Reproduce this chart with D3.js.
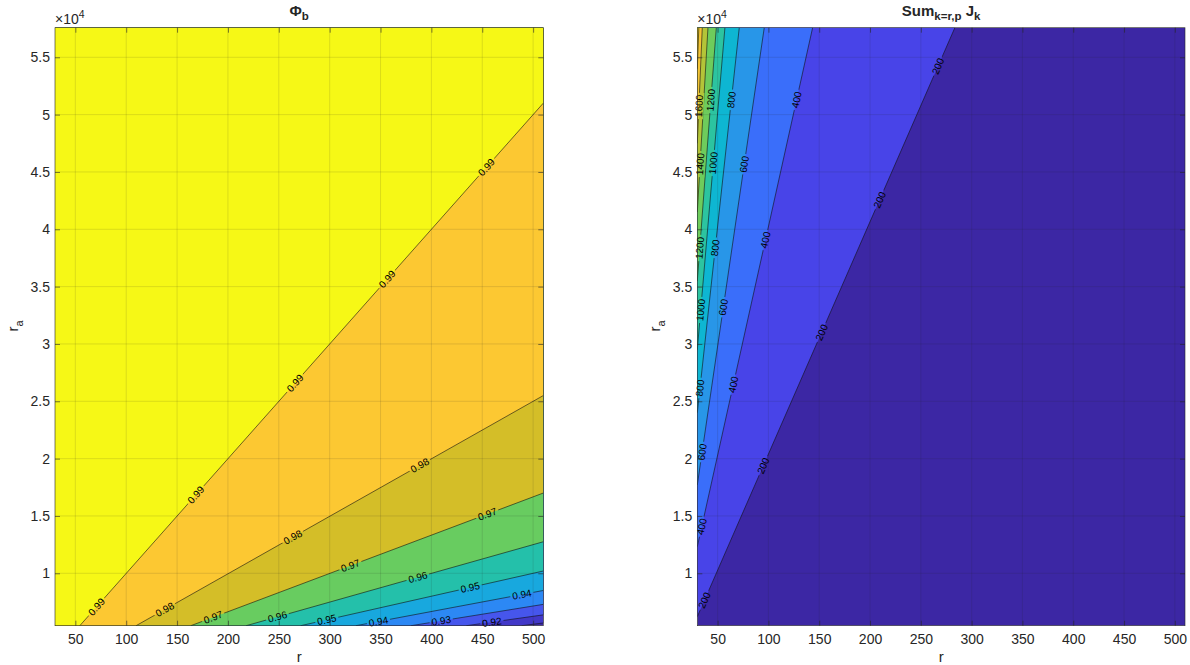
<!DOCTYPE html>
<html>
<head>
<meta charset="utf-8">
<script src="https://cdn.jsdelivr.net/npm/d3@7"></script>
<style>
  body { margin: 0; background: #fff; }
  svg text { font-family: "Liberation Sans", Arial, Helvetica, sans-serif; fill: #262626; }
</style>
</head>
<body>
<svg id="fig" width="1190" height="665"></svg>
<script>
// axis ranges and ticks (same for both panels)
const rDomain = [30, 510];
const raDomain = [5430, 57580];
const xTicks = [50, 100, 150, 200, 250, 300, 350, 400, 450, 500];
const yTicks = [10000, 15000, 20000, 25000, 30000, 35000, 40000, 45000, 50000, 55000];

const phiLevels = [0.91, 0.92, 0.93, 0.94, 0.95, 0.96, 0.97, 0.98, 0.99];
const phiLines = [
  [[488.7, 5430], [510, 5667]],
  [[434.4, 5430], [510, 6375]],
  [[380.0, 5430], [510, 7290]],
  [[325.8, 5430], [510, 8500]],
  [[271.5, 5430], [510, 10200]],
  [[217.9, 5430], [510, 12750]],
  [[163.5, 5430], [510, 17000]],
  [[109.7, 5430], [510, 25500]],
  [[54.4, 5430], [510, 51000]]
];
// label spots [level, r, ra]
const phiLabels = [
  [0.99, 68.7, 7235], [0.99, 168.7, 16828], [0.99, 268, 26422], [0.99, 357.5, 35579], [0.99, 454.9, 45346],
  [0.98, 138.2, 6799], [0.98, 263.1, 13253], [0.98, 389, 19358],
  [0.97, 185.7, 6128], [0.97, 320.8, 10576], [0.97, 454.6, 15233],
  [0.96, 248.7, 6189], [0.96, 386.8, 9616],
  [0.95, 297.2, 5929], [0.95, 438.2, 8744],
  [0.94, 348, 5779], [0.94, 489, 8108],
  [0.93, 409.7, 5840],
  [0.92, 459.5, 5727]
];
const phiFills = ["#3c28a8", "#4238c8", "#4656ec", "#2c88f4", "#18a8de", "#24c0aa", "#68cc60", "#d4be28", "#fcc832", "#f6f816"];

// right panel: Sum J_k
const sumLevels = [200, 400, 600, 800, 1000, 1200, 1400, 1600, 1800];
const sumLines = [
  [[30, 6215], [283.5, 57580]],
  [[30, 12320], [143.5, 57580]],
  [[30, 17700], [95.9, 57580]],
  [[30, 24000], [71.3, 57580]],
  [[30, 29500], [57.2, 57580]],
  [[30, 35500], [48.7, 57580]],
  [[30, 41500], [40.5, 57580]],
  [[30, 47500], [34.9, 57580]],
  [[30, 54000], [31.5, 57580]]
];
const sumLabels = [
  [200, 38.6, 7584], [200, 97.6, 19270], [200, 153.6, 30956], [200, 209.7, 42555], [200, 268.7, 54153],
  [400, 35.9, 14038], [400, 67.1, 26422], [400, 96.6, 39068], [400, 128.1, 51278],
  [600, 34.6, 20579], [600, 54.6, 33224], [600, 75.2, 45695],
  [800, 32.7, 26160], [800, 49.1, 38371], [800, 64.8, 51278],
  [1000, 33.6, 32962], [1000, 45.7, 45782],
  [1200, 32.7, 38371], [1200, 42.5, 51278],
  [1400, 32.7, 45695],
  [1600, 32.7, 50755]
];
const sumFills = ["#3c27a4", "#4844e8", "#3a6efa", "#2896e8", "#0eb6d2", "#2cc4a0", "#6ecc5c", "#b4c438", "#f4c434", "#f8e020"];

const svg = d3.select("#fig");
const plotTop = 27.7, plotBottom = 625.7;

function panel(cfg) {
  const x = d3.scaleLinear().domain(rDomain).range([cfg.left, cfg.right]);
  const y = d3.scaleLinear().domain(raDomain).range([plotBottom, plotTop]);
  const g = svg.append("g");
  const defs = svg.append("defs");

  defs.append("clipPath").attr("id", cfg.id + "-clip")
    .append("rect").attr("x", cfg.left).attr("y", plotTop)
    .attr("width", cfg.right - cfg.left).attr("height", plotBottom - plotTop);

  const px = p => [x(p[0]), y(p[1])];

  // filled bands: paint lowest colour, then the high side of each level on top
  const fillG = g.append("g").attr("clip-path", `url(#${cfg.id}-clip)`);
  fillG.append("rect").attr("x", cfg.left).attr("y", plotTop)
    .attr("width", cfg.right - cfg.left).attr("height", plotBottom - plotTop)
    .attr("fill", cfg.fills[0]);
  const corner = [cfg.left, plotTop]; // high values are to the top-left
  cfg.lines.forEach((seg, i) => {
    const a = px(seg[0]), b = px(seg[1]);
    const len = Math.hypot(b[0] - a[0], b[1] - a[1]);
    const d = [(b[0] - a[0]) / len, (b[1] - a[1]) / len];
    let n = [d[1], -d[0]];
    if (n[0] * (corner[0] - a[0]) + n[1] * (corner[1] - a[1]) < 0) n = [-n[0], -n[1]];
    const big = 3000;
    const p1 = [a[0] - d[0] * big, a[1] - d[1] * big];
    const p2 = [b[0] + d[0] * big, b[1] + d[1] * big];
    const p3 = [p2[0] + n[0] * big, p2[1] + n[1] * big];
    const p4 = [p1[0] + n[0] * big, p1[1] + n[1] * big];
    fillG.append("path").attr("d", d3.line()([p1, p2, p3, p4]) + "Z")
      .attr("fill", cfg.fills[i + 1]);
  });

  // grid
  const grid = g.append("g").attr("stroke", "#262626").attr("stroke-opacity", 0.13).attr("stroke-width", 1);
  grid.selectAll("line.gx").data(xTicks).enter().append("line")
    .attr("x1", d => x(d)).attr("x2", d => x(d)).attr("y1", plotTop).attr("y2", plotBottom);
  grid.selectAll("line.gy").data(yTicks).enter().append("line")
    .attr("y1", d => y(d)).attr("y2", d => y(d)).attr("x1", cfg.left).attr("x2", cfg.right);

  // contour labels, snapped on their line
  const labelG = g.append("g");
  const spots = cfg.labels.map(l => {
    const seg = cfg.lines[cfg.levels.indexOf(l[0])];
    const a = px(seg[0]), b = px(seg[1]), p = px([l[1], l[2]]);
    const vx = b[0] - a[0], vy = b[1] - a[1];
    let t = ((p[0] - a[0]) * vx + (p[1] - a[1]) * vy) / (vx * vx + vy * vy);
    t = Math.max(0, Math.min(1, t));
    let ang = Math.atan2(vy, vx) * 180 / Math.PI;
    if (ang > 90) ang -= 180;
    if (ang < -90) ang += 180;
    return {text: String(l[0]), x: a[0] + t * vx, y: a[1] + t * vy, ang};
  });
  labelG.selectAll("text").data(spots).enter().append("text")
    .attr("transform", d => `translate(${d.x},${d.y}) rotate(${d.ang})`)
    .attr("text-anchor", "middle").attr("dominant-baseline", "central")
    .style("font-size", "10px").style("fill", "#000")
    .text(d => d.text)
    .each(function(d) { d.w = this.getComputedTextLength(); });

  // gaps in the contour lines behind the labels
  const mask = defs.append("mask").attr("id", cfg.id + "-mask")
    .attr("maskUnits", "userSpaceOnUse").attr("x", 0).attr("y", 0).attr("width", 1190).attr("height", 665);
  mask.append("rect").attr("x", 0).attr("y", 0).attr("width", 1190).attr("height", 665).attr("fill", "#fff");
  mask.selectAll("rect.gap").data(spots).enter().append("rect")
    .attr("transform", d => `translate(${d.x},${d.y}) rotate(${d.ang})`)
    .attr("x", d => -d.w / 2 - 2).attr("y", -5).attr("width", d => d.w + 4).attr("height", 10)
    .attr("fill", "#000");

  g.insert("g", () => labelG.node())
    .attr("clip-path", `url(#${cfg.id}-clip)`)
    .append("g").attr("mask", `url(#${cfg.id}-mask)`)
    .selectAll("line").data(cfg.lines).enter().append("line")
    .attr("x1", d => x(d[0][0])).attr("y1", d => y(d[0][1]))
    .attr("x2", d => x(d[1][0])).attr("y2", d => y(d[1][1]))
    .attr("stroke", "#111").attr("stroke-width", 0.6);

  // axes, MATLAB style ticks pointing inward
  const styleAxis = a => {
    a.select(".domain").remove();
    a.selectAll("line").attr("stroke", "#262626").attr("stroke-width", 0.6);
    a.selectAll("text").style("font-size", "14px").style("fill", "#262626");
  };
  g.append("g").attr("transform", `translate(0,${plotBottom})`)
    .call(d3.axisBottom(x).tickValues(xTicks).tickSize(-5).tickPadding(8)).call(styleAxis);
  g.append("g").attr("transform", `translate(0,${plotTop})`)
    .call(d3.axisTop(x).tickValues(xTicks).tickSize(-5).tickFormat("")).call(styleAxis);
  g.append("g").attr("transform", `translate(${cfg.left},0)`)
    .call(d3.axisLeft(y).tickValues(yTicks).tickSize(-5).tickPadding(5).tickFormat(d => d / 1e4)).call(styleAxis);
  g.append("g").attr("transform", `translate(${cfg.right},0)`)
    .call(d3.axisRight(y).tickValues(yTicks).tickSize(-5).tickFormat("")).call(styleAxis);
  g.append("rect").attr("x", cfg.left).attr("y", plotTop)
    .attr("width", cfg.right - cfg.left).attr("height", plotBottom - plotTop)
    .attr("fill", "none").attr("stroke", "#262626").attr("stroke-width", 0.6);

  // exponent
  const ex = g.append("text").attr("x", cfg.left).attr("y", 24).style("font-size", "14px");
  ex.append("tspan").text("\u00d710");
  ex.append("tspan").attr("dy", -6).style("font-size", "10.5px").text("4");

  // axis labels
  g.append("text").attr("x", (cfg.left + cfg.right) / 2).attr("y", 662)
    .attr("text-anchor", "middle").style("font-size", "15px").text("r");
  const yl = g.append("text")
    .attr("transform", `translate(${cfg.left - 37},326) rotate(-90)`)
    .attr("text-anchor", "middle").style("font-size", "15px");
  yl.append("tspan").text("r");
  yl.append("tspan").attr("dy", 5).style("font-size", "11px").text("a");

  // title
  const t = g.append("text").attr("x", (cfg.left + cfg.right) / 2).attr("y", 16)
    .attr("text-anchor", "middle").style("font-size", "15px").style("font-weight", "bold");
  cfg.title(t);
}

panel({
  id: "phi", left: 55, right: 543.3,
  levels: phiLevels, lines: phiLines, labels: phiLabels, fills: phiFills,
  title: t => {
    t.append("tspan").text("\u03a6");
    t.append("tspan").attr("dy", 4).style("font-size", "11.5px").text("b");
  }
});

panel({
  id: "sum", left: 697.3, right: 1185,
  levels: sumLevels, lines: sumLines, labels: sumLabels, fills: sumFills,
  title: t => {
    t.append("tspan").text("Sum");
    t.append("tspan").attr("dy", 4).style("font-size", "11.5px").text("k=r,p");
    t.append("tspan").attr("dy", -4).text(" J");
    t.append("tspan").attr("dy", 4).style("font-size", "11.5px").text("k");
  }
});
</script>
</body>
</html>
